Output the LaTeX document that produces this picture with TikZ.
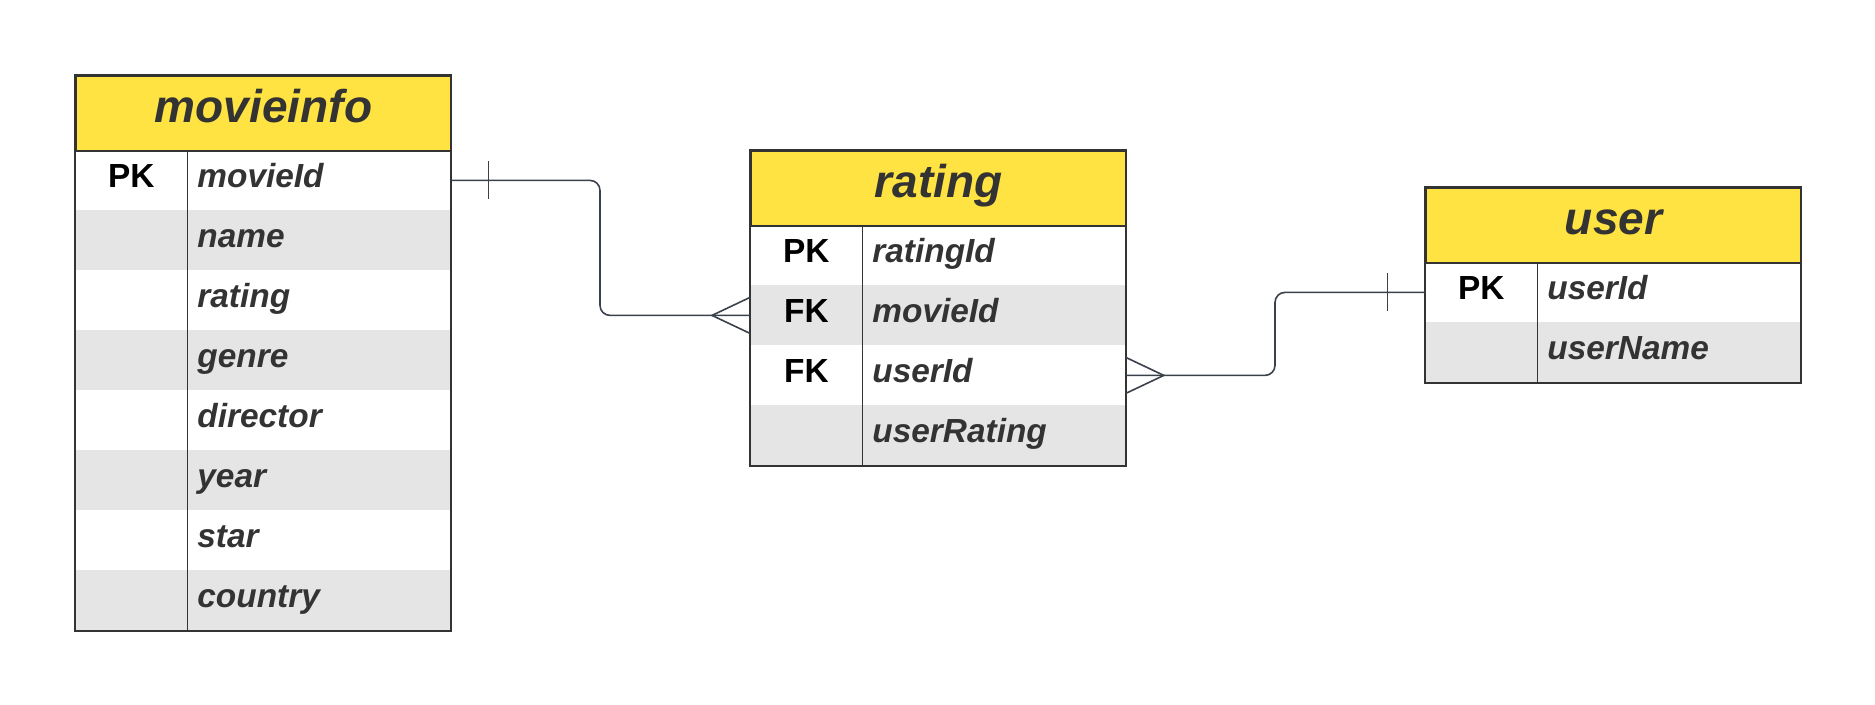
\documentclass[tikz,border=0pt]{standalone}
\usepackage{fontspec}
\setmainfont{Liberation Sans}
\definecolor{headyellow}{HTML}{FFE342}
\definecolor{rowgray}{HTML}{E5E5E5}
\definecolor{tabline}{HTML}{333333}
\definecolor{linkline}{HTML}{3A414B}
\definecolor{darktext}{HTML}{333333}
\begin{document}
\begin{tikzpicture}[x=0.5pt,y=-0.5pt,
    head/.style={draw=tabline,line width=1pt,fill=headyellow,anchor=north west,
      minimum width=187.5pt,minimum height=37.5pt,inner sep=0pt,
      text height=15pt,text depth=6.4pt,text=darktext,
      font=\fontsize{23}{27}\selectfont\bfseries\itshape},
    keycell/.style={anchor=north west,minimum width=56pt,minimum height=30pt,
      inner sep=0pt,text height=12pt,text depth=5.2pt,
      font=\fontsize{16.7}{20}\selectfont\bfseries},
    fieldcell/.style={anchor=north west,minimum height=30pt,inner xsep=5pt,
      inner ysep=0pt,text width=121.5pt,align=left,text height=12pt,
      text depth=5.2pt,text=darktext,
      font=\fontsize{16.7}{20}\selectfont\bfseries\itshape},
    grey/.style={fill=rowgray},
    link/.style={draw=linkline,line width=0.8pt},
    tick/.style={draw=linkline,line width=0.5pt}]
  \useasboundingbox (0,0) rectangle (1875,705);
  % movieinfo
  \node[head] (mi-head) at (75,75) {movieinfo};
  \node[keycell] (mi-k1) at (75,150) {PK};
  \node[fieldcell] (mi-f1) at (187,150) {movieId};
  \node[keycell,grey] (mi-k2) at (75,210) {};
  \node[fieldcell,grey] (mi-f2) at (187,210) {name};
  \node[keycell] (mi-k3) at (75,270) {};
  \node[fieldcell] (mi-f3) at (187,270) {rating};
  \node[keycell,grey] (mi-k4) at (75,330) {};
  \node[fieldcell,grey] (mi-f4) at (187,330) {genre};
  \node[keycell] (mi-k5) at (75,390) {};
  \node[fieldcell] (mi-f5) at (187,390) {director};
  \node[keycell,grey] (mi-k6) at (75,450) {};
  \node[fieldcell,grey] (mi-f6) at (187,450) {year};
  \node[keycell] (mi-k7) at (75,510) {};
  \node[fieldcell] (mi-f7) at (187,510) {star};
  \node[keycell,grey] (mi-k8) at (75,570) {};
  \node[fieldcell,grey] (mi-f8) at (187,570) {country};
  \draw[tabline,line width=0.5pt] (mi-k1.north east) -- (mi-k8.south east);
  \draw[tabline,line width=1pt] (mi-head.north west) rectangle (mi-f8.south east);
  % rating
  \node[head] (ra-head) at (750,150) {rating};
  \node[keycell] (ra-k1) at (750,225) {PK};
  \node[fieldcell] (ra-f1) at (862,225) {ratingId};
  \node[keycell,grey] (ra-k2) at (750,285) {FK};
  \node[fieldcell,grey] (ra-f2) at (862,285) {movieId};
  \node[keycell] (ra-k3) at (750,345) {FK};
  \node[fieldcell] (ra-f3) at (862,345) {userId};
  \node[keycell,grey] (ra-k4) at (750,405) {};
  \node[fieldcell,grey] (ra-f4) at (862,405) {userRating};
  \draw[tabline,line width=0.5pt] (ra-k1.north east) -- (ra-k4.south east);
  \draw[tabline,line width=1pt] (ra-head.north west) rectangle (ra-f4.south east);
  % user
  \node[head] (us-head) at (1425,187) {user};
  \node[keycell] (us-k1) at (1425,262) {PK};
  \node[fieldcell] (us-f1) at (1537,262) {userId};
  \node[keycell,grey] (us-k2) at (1425,322) {};
  \node[fieldcell,grey] (us-f2) at (1537,322) {userName};
  \draw[tabline,line width=0.5pt] (us-k1.north east) -- (us-k2.south east);
  \draw[tabline,line width=1pt] (us-head.north west) rectangle (us-f2.south east);
  % links
  \coordinate (bend1) at (600,0);
  \coordinate (bend2) at (1275,0);
  \draw[link,rounded corners=5pt] (mi-f1.east) -| (bend1 |- ra-k2.west) -- (ra-k2.west);
  \draw[tick] ([xshift=19pt,yshift=9.5pt]mi-f1.east) -- ([xshift=19pt,yshift=-9.5pt]mi-f1.east);
  \draw[link] ([yshift=9pt]ra-k2.west) -- ([xshift=-19pt]ra-k2.west) -- ([yshift=-9pt]ra-k2.west);
  \draw[link,rounded corners=5pt] (ra-f3.east) -| (bend2 |- us-k1.west) -- (us-k1.west);
  \draw[link] ([yshift=9pt]ra-f3.east) -- ([xshift=19pt]ra-f3.east) -- ([yshift=-9pt]ra-f3.east);
  \draw[tick] ([xshift=-19pt,yshift=9.5pt]us-k1.west) -- ([xshift=-19pt,yshift=-9.5pt]us-k1.west);
\end{tikzpicture}
\end{document}
